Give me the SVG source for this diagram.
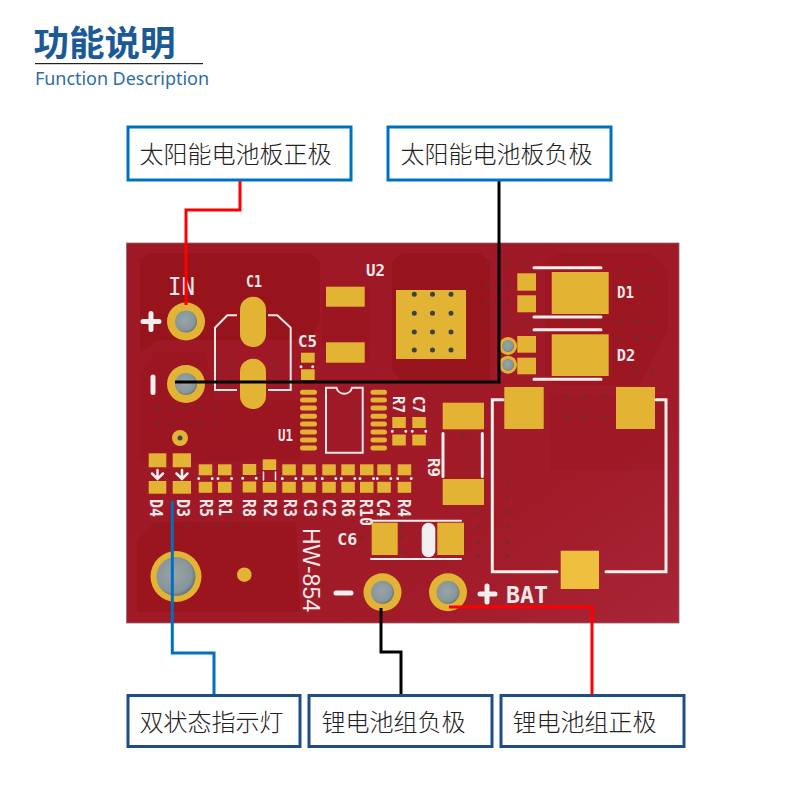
<svg xmlns="http://www.w3.org/2000/svg" width="800" height="800" viewBox="0 0 800 800">
<style>
.cjk{font-family:"Noto Sans CJK SC","Noto Sans",sans-serif}
.lb{font-size:24px;fill:#222;font-weight:300}
.bx1{fill:#fff;stroke:#0070c0;stroke-width:3}
.bx2{fill:#fff;stroke:#1f4e87;stroke-width:3}
.pad{fill:#e3b433}
.ring{fill:#e3b433}
.sl{fill:none;stroke:#f0e8e8;stroke-width:2}
.sd{fill:none;stroke:#f4eeee;stroke-width:3;stroke-linecap:round}
.sk{font-family:"DejaVu Sans Mono",monospace;fill:#f0e8e8;font-size:17px;font-weight:700}
.via{fill:none;stroke:#742a30;stroke-width:3.500;stroke-linecap:round}
.dot{fill:none;stroke:#f4eeee;stroke-width:3;stroke-linecap:round}
.bv{fill:none;stroke:#3c4048;stroke-width:5;stroke-linecap:round}
.zone{fill:#98141d}
.c{fill:none;stroke-width:3}
</style>
<defs>
<linearGradient id="bd" x1="0.3" y1="0.3" x2="1" y2="1"><stop offset="0" stop-color="#9f1825"/><stop offset="0.6" stop-color="#a11b29"/><stop offset="1" stop-color="#a92537"/></linearGradient>
<radialGradient id="hole" cx="0.45" cy="0.45" r="0.6"><stop offset="0" stop-color="#98a5a8"/><stop offset="0.75" stop-color="#87969b"/><stop offset="1" stop-color="#5c6b72"/></radialGradient>
<g id="r"><rect class="pad" x="0" y="0" width="13.5" height="11"/><rect class="pad" x="0" y="17.5" width="13.5" height="11"/><path class="dot" d="M0 14.2h0M13.5 14.2h0"/></g>
</defs>
<rect width="800" height="800" fill="#fff"/>

<g id="title">
<text class="cjk" x="33.500" y="56" font-size="35.500" font-weight="700" fill="#1c5a97">功能说明</text>
<rect x="35" y="63" width="168" height="1.200" fill="#222"/>
<text x="35" y="85" font-family="'Noto Sans',sans-serif" font-size="18" fill="#2f6ca6" textLength="174">Function Description</text>
</g>

<g id="pcb">
<rect x="126.500" y="243" width="552.500" height="380" fill="url(#bd)" stroke="#8a6a70" stroke-width="0.800"/>
<path class="zone" d="M137 262L150 253H310L320 262V320L310 340H160L140 352V262Z"/>
<path class="zone" d="M392 262L402 253H480L490 262V380H400L392 370Z"/>
<path class="zone" d="M322 290V345L370 362V290Z" opacity="0.500"/>
<path class="zone" d="M140 375L155 352H205L215 400H300V460L140 462Z" opacity="0.500"/>
<path class="zone" d="M137 540L155 522H296L300 612H137Z" opacity="0.800"/>
<path class="zone" d="M560 253H650L668 270V330L640 385H560L545 380V262Z" opacity="0.450"/>
<path class="zone" d="M550 395H668V470H550Z" opacity="0.250"/>
<path class="via" d="M488 264h0M507 264h0M525 264h0M488 283h0M508 283h0M488 302h0M508 302h0M488 320h0M508 320h0M525 320h0M567 262h0M585 262h0M603 262h0M567 321h0M585 321h0M603 321h0M620 270h0M637 270h0M653 270h0M637 288h0M653 288h0M620 321h0M637 321h0M653 321h0M620 338h0M637 338h0M653 338h0M620 356h0M637 371h0M653 371h0M567 397h0M585 397h0M603 397h0M567 417h0M585 417h0M603 417h0M217 363h0M230 363h0M217 372h0M230 372h0M243 372h0M275 372h0M275 363h0M159 408h0M173 408h0M187 408h0M201 408h0M216 408h0M159 423h0M173 423h0M187 423h0M201 423h0M216 423h0M157 526h0M186 526h0M201 526h0M216 526h0M229 526h0M243 526h0M263 508h0M280 508h0M362 538h0M402 525h0M402 538h0M402 552h0M478 483h0M507 483h0M507 498h0M478 512h0M507 512h0M478 527h0M507 527h0M478 542h0M507 542h0M478 556h0M507 556h0M463 435h0M359 416h0"/>

<g id="in-plus"><circle class="ring" cx="186" cy="321.500" r="19"/><circle cx="186" cy="321.500" r="11" fill="url(#hole)"/></g>
<g id="in-minus"><circle class="ring" cx="186" cy="384" r="19"/><circle cx="186" cy="384" r="11" fill="url(#hole)"/></g>
<circle class="ring" cx="180" cy="438" r="8"/><circle cx="180" cy="438" r="2.500" fill="#3f4a4e"/>
<circle class="ring" cx="176" cy="576.500" r="25.500"/><circle cx="176" cy="576.500" r="19.500" fill="url(#hole)"/>
<circle class="ring" cx="244.300" cy="574.700" r="7.300"/>
<g id="bat-minus"><circle class="ring" cx="382.500" cy="592.300" r="19"/><circle cx="382.500" cy="592.300" r="11.500" fill="url(#hole)"/></g>
<g id="bat-plus"><circle class="ring" cx="448" cy="592.300" r="19"/><circle cx="448" cy="592.300" r="11.500" fill="url(#hole)"/></g>
<path class="sd" style="stroke-width:5" d="M143 321.500H159M151 313.500V329.500M153 377V392.500M336 593H351M480 594H495M487 586V602"/>
<text class="sk" x="168" y="294.500" style="font-size:25px;font-weight:400" textLength="27" lengthAdjust="spacingAndGlyphs">IN</text>
<text class="sk" x="246" y="286.700" style="font-size:15px" textLength="16" lengthAdjust="spacingAndGlyphs">C1</text>
<text class="sk" x="298" y="346.700" style="font-size:15px" textLength="19" lengthAdjust="spacingAndGlyphs">C5</text>
<text class="sk" x="366" y="276" style="font-size:15px" textLength="19" lengthAdjust="spacingAndGlyphs">U2</text>
<text class="sk" x="278" y="441" style="font-size:15px" textLength="15" lengthAdjust="spacingAndGlyphs">U1</text>
<text class="sk" x="617" y="298" style="font-size:15px" textLength="17" lengthAdjust="spacingAndGlyphs">D1</text>
<text class="sk" x="616.700" y="361" style="font-size:16px" textLength="18.500" lengthAdjust="spacingAndGlyphs">D2</text>
<text class="sk" x="337.300" y="545" style="font-size:15px" textLength="20" lengthAdjust="spacingAndGlyphs">C6</text>
<text class="sk" x="506" y="603.300" style="font-size:23px" textLength="42" lengthAdjust="spacingAndGlyphs">BAT</text>
<text transform="translate(302.700 528) rotate(90)" font-family="'Liberation Sans',sans-serif" font-size="23" fill="#f0e8e8" textLength="84" lengthAdjust="spacingAndGlyphs">HW-854</text>

<g id="c1"><rect class="pad" x="240" y="296.700" width="26" height="50.300" rx="13"/><rect class="pad" x="240" y="358.700" width="26" height="50.300" rx="13"/>
<path class="sl" d="M237 315.300H227.300L215 327.700V390H237M268 315.300H277.300L290.700 327.700V390H268"/></g>
<g id="c5"><rect class="pad" x="301" y="352.700" width="13.700" height="10"/><rect class="pad" x="301" y="369.300" width="13.700" height="10.700"/><path class="dot" d="M301 366.700h0M312.700 366.700h0"/></g>
<g id="u2"><rect class="pad" x="326" y="286.700" width="38.700" height="20"/><rect class="pad" x="326" y="342.300" width="38.700" height="20.400"/><rect class="pad" x="396" y="290" width="70" height="69"/>
<path class="bv" d="M414.300 294.300h0M432.500 294.300h0M451 294.300h0M414.300 313.300h0M432.500 313.300h0M451 313.300h0M414.300 332h0M432.500 332h0M451 332h0M414.300 350h0M432.500 350h0M451 350h0"/></g>
<g id="d1"><rect class="pad" x="517.300" y="273.300" width="18.700" height="17.400"/><rect class="pad" x="517.300" y="295.300" width="18.700" height="17"/><rect class="pad" x="551.700" y="272" width="57" height="42"/><path class="sd" d="M534 267.700H601M534 317H601"/></g>
<g id="d2"><rect class="pad" x="517.300" y="336" width="18.700" height="16.700"/><rect class="pad" x="517.300" y="357.700" width="18.700" height="16.600"/><rect class="pad" x="551.700" y="334.300" width="57" height="41.700"/><path class="sd" d="M534 329.700H601M534 379.300H601"/>
<circle class="ring" cx="508" cy="346" r="9"/><circle class="ring" cx="508" cy="364.700" r="9"/><circle cx="508" cy="346" r="6" fill="url(#hole)"/><circle cx="508" cy="364.700" r="6" fill="url(#hole)"/></g>
<g id="batpads"><rect class="pad" x="504.300" y="387" width="39.400" height="42"/><rect class="pad" x="616" y="387" width="39" height="42"/><rect x="560.700" y="550.700" width="38.300" height="38.300" fill="#efc040"/>
<path class="sd" d="M503 399.700H492.300V571.700H557M606 571.700H666V399.700H656"/></g>
<g id="r9"><rect class="pad" x="442.700" y="402.700" width="41.300" height="26.600"/><rect class="pad" x="442.700" y="479" width="41.300" height="26"/><path class="sd" d="M443 433.500V476.500M482.300 433.500V476.500"/>
<text class="sk" transform="translate(428 458) rotate(90)" style="font-size:15px" textLength="19" lengthAdjust="spacingAndGlyphs">R9</text></g>
<g id="u1">
<path class="sl" d="M326 387.700H336.500A8 8 0 0 0 352 387.700H362.700V452.700H326Z"/>
<path d="M302.500 392.300H314.500M302.500 400H314.500M302.500 408H314.500M302.500 416.300H314.500M302.500 424H314.500M302.500 432H314.500M302.500 440H314.500M302.500 448H314.500M373 392.300H384.500M373 400H384.500M373 408H384.500M373 416.300H384.500M373 424H384.500M373 432H384.500M373 440H384.500M373 448H384.500" fill="none" stroke="#e3b433" stroke-width="5" stroke-linecap="round"/></g>
<use href="#r" x="392.300" y="417"/><use href="#r" x="412.300" y="417"/>
<text class="sk" transform="translate(393 396) rotate(90)" style="font-size:15px" textLength="17" lengthAdjust="spacingAndGlyphs">R7</text>
<text class="sk" transform="translate(413 396) rotate(90)" style="font-size:15px" textLength="17" lengthAdjust="spacingAndGlyphs">C7</text>
<g id="c6"><rect class="pad" x="371.700" y="522.700" width="26" height="32.300"/><rect class="pad" x="437.300" y="522.700" width="26.700" height="32.300"/><rect x="421.700" y="522.700" width="13.600" height="34.600" rx="6.800" fill="#f2efef"/><path class="sd" style="stroke-width:2" d="M371 520.700H461M371 559H461"/></g>
<g id="leds">
<rect class="pad" x="148.700" y="453.300" width="17.600" height="14"/><rect class="pad" x="148.700" y="481" width="17.600" height="12.700"/>
<rect class="pad" x="172.700" y="453.300" width="18.300" height="14"/><rect class="pad" x="172.700" y="481" width="18.300" height="12.700"/>
<path class="sd" style="stroke-width:2.500" d="M157.500 470V478M152 473.500L157.500 479L163 473.500M182 470V478M176.500 473.500L182 479L187.500 473.500"/>
</g>
<use href="#r" x="198.700" y="464.300"/><use href="#r" x="218" y="464.300"/><use href="#r" x="242.700" y="464"/>
<rect class="pad" x="262.700" y="459.300" width="13.500" height="10.700"/><rect class="pad" x="262.700" y="482" width="13.500" height="10.700"/><path class="sd" style="stroke-width:1.500" d="M263.500 472V480M275.500 472V480"/>
<use href="#r" x="282.300" y="464.300"/><use href="#r" x="302.300" y="464.300"/><use href="#r" x="322.300" y="464.300"/><use href="#r" x="341.300" y="464.300"/><use href="#r" x="360" y="464.300"/><use href="#r" x="377.300" y="464.300"/><use href="#r" x="397.700" y="464.300"/>
<g id="reflabels">
<text class="sk" transform="translate(150 499) rotate(90)" textLength="18" lengthAdjust="spacingAndGlyphs">D4</text>
<text class="sk" transform="translate(176.700 499) rotate(90)" textLength="18" lengthAdjust="spacingAndGlyphs">D3</text>
<text class="sk" transform="translate(200 499) rotate(90)" textLength="18" lengthAdjust="spacingAndGlyphs">R5</text>
<text class="sk" transform="translate(218.700 499) rotate(90)" textLength="17" lengthAdjust="spacingAndGlyphs">R1</text>
<text class="sk" transform="translate(243.300 499) rotate(90)" textLength="18" lengthAdjust="spacingAndGlyphs">R8</text>
<text class="sk" transform="translate(264 499) rotate(90)" textLength="18" lengthAdjust="spacingAndGlyphs">R2</text>
<text class="sk" transform="translate(284.300 499) rotate(90)" textLength="18" lengthAdjust="spacingAndGlyphs">R3</text>
<text class="sk" transform="translate(304 499) rotate(90)" textLength="18" lengthAdjust="spacingAndGlyphs">C3</text>
<text class="sk" transform="translate(323.300 499) rotate(90)" textLength="18" lengthAdjust="spacingAndGlyphs">C2</text>
<text class="sk" transform="translate(341.700 499) rotate(90)" textLength="18" lengthAdjust="spacingAndGlyphs">R6</text>
<text class="sk" transform="translate(360 499) rotate(90)" textLength="27" lengthAdjust="spacingAndGlyphs">R10</text>
<text class="sk" transform="translate(377.300 499) rotate(90)" textLength="18" lengthAdjust="spacingAndGlyphs">C4</text>
<text class="sk" transform="translate(398.300 499) rotate(90)" textLength="18" lengthAdjust="spacingAndGlyphs">R4</text>
</g>
</g>

<g id="connectors">
<path class="c" stroke="#ff0000" d="M240 180V210H186V305"/>
<path class="c" stroke="#000" d="M499 180V382H175"/>
<path class="c" stroke="#0070c0" d="M172.300 501V653H214V695"/>
<path class="c" stroke="#000" d="M381 608V652H401V695"/>
<path class="c" stroke="#ff0000" d="M449 607H592V695"/>
</g>

<g id="n1"><rect class="bx1" x="128" y="127" width="223" height="53"/><text class="cjk lb" x="139.500" y="163">太阳能电池板正极</text></g>
<g id="n2"><rect class="bx1" x="388" y="127" width="223" height="53"/><text class="cjk lb" x="400.500" y="163">太阳能电池板负极</text></g>
<g id="n3"><rect class="bx2" x="128" y="695.500" width="172" height="51"/><text class="cjk lb" x="139.500" y="731">双状态指示灯</text></g>
<g id="n4"><rect class="bx2" x="309" y="695.500" width="183" height="51"/><text class="cjk lb" x="321.500" y="731">锂电池组负极</text></g>
<g id="n5"><rect class="bx2" x="501" y="695.500" width="183" height="51"/><text class="cjk lb" x="512.500" y="731">锂电池组正极</text></g>
</svg>
